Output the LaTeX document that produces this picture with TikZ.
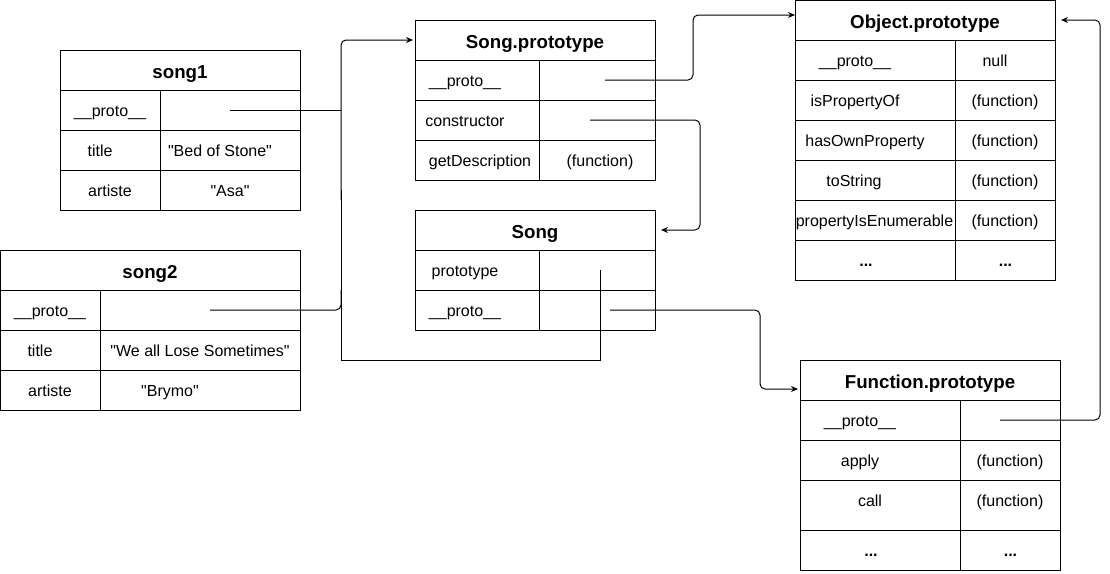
\documentclass[tikz,border=0pt]{standalone}
\usepackage{fontspec}
\setmainfont{Liberation Sans}[Ligatures=TeXOff]
\usetikzlibrary{arrows.meta}
\tikzset{
  cell/.style={draw, line width=1pt, inner sep=0pt, outer sep=0pt, anchor=north west, minimum height=40pt},
  txt/.style={font=\fontsize{16}{19}\selectfont, inner sep=0pt, anchor=base},
  ttl/.style={font=\fontsize{18.7}{22}\selectfont\bfseries, inner sep=0pt, anchor=base},
  dots/.style={font=\fontsize{16}{19}\selectfont\bfseries, inner sep=0pt, anchor=base},
  wire/.style={line width=1pt},
  conn/.style={line width=1pt, rounded corners=5pt},
  arr/.style={-{Stealth[length=7pt,width=6pt]}}
}
\begin{document}
\begin{tikzpicture}[x=1pt,y=-1pt]
\useasboundingbox (0,0) rectangle (1110,573);

% ---------- song1 ----------
\node[cell,minimum width=240pt] (s1) at (60,50) {};
\node[cell,minimum width=100pt] (s1k1) at (60,90) {};
\node[cell,minimum width=140pt] (s1v1) at (160,90) {};
\node[cell,minimum width=100pt] (s1k2) at (60,130) {};
\node[cell,minimum width=140pt] (s1v2) at (160,130) {};
\node[cell,minimum width=100pt] (s1k3) at (60,170) {};
\node[cell,minimum width=140pt] (s1v3) at (160,170) {};
\node[ttl] (s1t) at (180,78.5) {song1};
\node[txt] (s1k1t) at (110,116) {\_\_proto\_\_};
\node[txt] (s1k2t) at (100,156) {title};
\node[txt] (s1v2t) at (220,156) {"Bed of Stone"};
\node[txt] (s1k3t) at (110,196) {artiste};
\node[txt] (s1v3t) at (230,196) {"Asa"};

% ---------- song2 ----------
\node[cell,minimum width=300pt] (s2) at (0.5,250) {};
\node[cell,minimum width=99.5pt] (s2k1) at (0.5,290) {};
\node[cell,minimum width=200pt] (s2v1) at (100,290) {};
\node[cell,minimum width=99.5pt] (s2k2) at (0.5,330) {};
\node[cell,minimum width=200pt] (s2v2) at (100,330) {};
\node[cell,minimum width=99.5pt] (s2k3) at (0.5,370) {};
\node[cell,minimum width=200pt] (s2v3) at (100,370) {};
\node[ttl] (s2t) at (150,278.5) {song2};
\node[txt] (s2k1t) at (50,316) {\_\_proto\_\_};
\node[txt] (s2k2t) at (40,356) {title};
\node[txt] (s2v2t) at (200,356) {"We all Lose Sometimes"};
\node[txt] (s2k3t) at (50,396) {artiste};
\node[txt] (s2v3t) at (170,396) {"Brymo"};

% ---------- Song.prototype ----------
\node[cell,minimum width=240pt] (sp) at (415,20) {};
\node[cell,minimum width=124pt] (spk1) at (415,60) {};
\node[cell,minimum width=116pt] (spv1) at (539,60) {};
\node[cell,minimum width=124pt] (spk2) at (415,100) {};
\node[cell,minimum width=116pt] (spv2) at (539,100) {};
\node[cell,minimum width=124pt] (spk3) at (415,140) {};
\node[cell,minimum width=116pt] (spv3) at (539,140) {};
\node[ttl] (spt) at (535,48.5) {Song.prototype};
\node[txt] (spk1t) at (465,86) {\_\_proto\_\_};
\node[txt] (spk2t) at (465,126) {constructor};
\node[txt] (spk3t) at (480,166) {getDescription};
\node[txt] (spv3t) at (600,166) {(function)};

% ---------- Song ----------
\node[cell,minimum width=240pt] (sg) at (415,210) {};
\node[cell,minimum width=124pt] (sgk1) at (415,250) {};
\node[cell,minimum width=116pt] (sgv1) at (539,250) {};
\node[cell,minimum width=124pt] (sgk2) at (415,290) {};
\node[cell,minimum width=116pt] (sgv2) at (539,290) {};
\node[ttl] (sgt) at (535,238.5) {Song};
\node[txt] (sgk1t) at (465,276) {prototype};
\node[txt] (sgk2t) at (465,316) {\_\_proto\_\_};

% ---------- Object.prototype ----------
\node[cell,minimum width=260pt,minimum height=39.5pt] (op) at (795,0.5) {};
\node[cell,minimum width=160pt] (opk1) at (795,40) {};
\node[cell,minimum width=100pt] (opv1) at (955,40) {};
\node[cell,minimum width=160pt] (opk2) at (795,80) {};
\node[cell,minimum width=100pt] (opv2) at (955,80) {};
\node[cell,minimum width=160pt] (opk3) at (795,120) {};
\node[cell,minimum width=100pt] (opv3) at (955,120) {};
\node[cell,minimum width=160pt] (opk4) at (795,160) {};
\node[cell,minimum width=100pt] (opv4) at (955,160) {};
\node[cell,minimum width=160pt] (opk5) at (795,200) {};
\node[cell,minimum width=100pt] (opv5) at (955,200) {};
\node[cell,minimum width=160pt] (opk6) at (795,240) {};
\node[cell,minimum width=100pt] (opv6) at (955,240) {};
\node[ttl] (opt) at (925,28) {Object.prototype};
\node[txt] (opk1t) at (855,66) {\_\_proto\_\_};
\node[txt] (opv1t) at (995,66) {null};
\node[txt] (opk2t) at (855,106) {isPropertyOf};
\node[txt] (opv2t) at (1005,106) {(function)};
\node[txt] (opk3t) at (865,146) {hasOwnProperty};
\node[txt] (opv3t) at (1005,146) {(function)};
\node[txt] (opk4t) at (854,186) {toString};
\node[txt] (opv4t) at (1005,186) {(function)};
\node[txt] (opk5t) at (874.5,226) {propertyIsEnumerable};
\node[txt] (opv5t) at (1005,226) {(function)};
\node[dots] (opk6t) at (866,266) {...};
\node[dots] (opv6t) at (1005.5,266) {...};

% ---------- Function.prototype ----------
\node[cell,minimum width=260pt] (fp) at (800,360) {};
\node[cell,minimum width=160pt] (fpk1) at (800,400) {};
\node[cell,minimum width=100pt] (fpv1) at (960,400) {};
\node[cell,minimum width=160pt] (fpk2) at (800,440) {};
\node[cell,minimum width=100pt] (fpv2) at (960,440) {};
\node[cell,minimum width=160pt,minimum height=50pt] (fpk3) at (800,480) {};
\node[cell,minimum width=100pt,minimum height=50pt] (fpv3) at (960,480) {};
\node[cell,minimum width=160pt] (fpk4) at (800,530) {};
\node[cell,minimum width=100pt] (fpv4) at (960,530) {};
\node[ttl] (fpt) at (930,388.5) {Function.prototype};
\node[txt] (fpk1t) at (860,426) {\_\_proto\_\_};
\node[txt] (fpk2t) at (860,466) {apply};
\node[txt] (fpv2t) at (1010,466) {(function)};
\node[txt] (fpk3t) at (870,506) {call};
\node[txt] (fpv3t) at (1010,506) {(function)};
\node[dots] (fpk4t) at (871,556) {...};
\node[dots] (fpv4t) at (1010.5,556) {...};

% ---------- connectors ----------
\coordinate (c1) at (230,110);
\coordinate (c2) at (210,310);
\coordinate (c3) at (600,270);
\coordinate (c4) at (605,80);
\coordinate (c5) at (590,120);
\coordinate (c6) at (610,310);
\coordinate (c7) at (1000,420);

\draw[wire] (c1) -- (341,110);
\draw[conn] (c2) -- (341,310) -- (341,290);
\draw[wire] (c3) -- (600,360) -- (341,360) -- (341,190);
\draw[conn,arr] (341,200) -- (341,40) -- ([xshift=-2pt]sp.west);
\draw[conn,arr] (c4) -- (693,80) -- (693,15) -- ([yshift=5.25pt]op.west);
\draw[conn,arr] (c5) -- (700,120) -- (700,230) -- ([xshift=6pt]sg.east);
\draw[conn,arr] (c6) -- (760,310) -- (760,389) -- ([xshift=-2pt,yshift=-9pt]fp.west);
\draw[conn,arr] (c7) -- (1100,420) -- (1100,20) -- ([xshift=6pt,yshift=0.25pt]op.east);
\end{tikzpicture}
\end{document}
